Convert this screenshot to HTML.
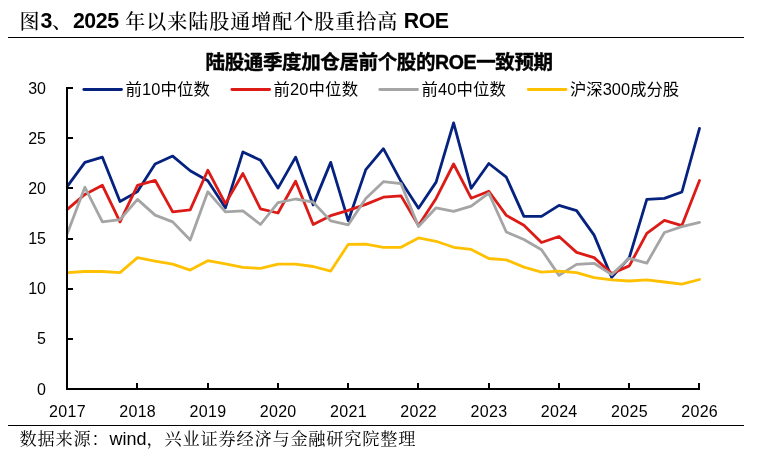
<!DOCTYPE html>
<html lang="zh-CN"><head><meta charset="utf-8"><title>图3</title>
<style>
html,body{margin:0;padding:0;background:#fff;}
body{width:765px;height:461px;position:relative;overflow:hidden;font-family:"Liberation Sans","Noto Sans CJK SC",sans-serif;color:#000;}
.t{position:absolute;white-space:nowrap;line-height:1;}
.kai{font-family:"Liberation Sans","Noto Serif CJK SC",serif;}
#title{left:19px;top:9px;font-size:20px;letter-spacing:1px;height:24px;line-height:24px;font-weight:500;}
#title span{position:relative;top:1px}
#t1{margin-left:0.5px}#t5{margin-left:1.2px}
#title b{font-size:21.33px;letter-spacing:-0.45px;font-weight:bold;font-family:"Liberation Sans",sans-serif;}
#ctitle{left:205.5px;top:52px;font-size:19.5px;font-weight:700;line-height:20px;letter-spacing:-0.37px;-webkit-text-stroke:0.4px #000;}
.leg{font-size:16.4px;top:80.3px;line-height:18px;letter-spacing:0.15px;}
.yl{font-size:16px;width:40px;left:6px;text-align:right;line-height:16px;}
.xl{font-size:16px;width:60px;text-align:center;top:404px;line-height:16px;letter-spacing:0.3px;text-indent:0.3px;}
#foot{left:19.5px;top:429px;font-size:17.2px;letter-spacing:0.8px;line-height:20px;font-weight:400;}
#foot b{font-size:18px;letter-spacing:0;font-weight:normal;font-family:"Liberation Sans",sans-serif;}
</style></head><body>
<svg width="765" height="461" viewBox="0 0 765 461" style="position:absolute;left:0;top:0">
<rect x="8" y="37" width="736" height="1" fill="#000"/>
<rect x="8" y="425" width="736" height="1" fill="#000"/>
<polyline fill="none" stroke="#05227F" stroke-width="2.8" stroke-linejoin="round" stroke-linecap="round" points="67.3,186.4 84.9,162.4 102.4,157.2 120.0,201.5 137.5,191.6 155.1,164.1 172.7,156.1 190.2,170.8 207.8,180.8 225.4,207.8 242.9,151.9 260.5,160.3 278.0,188.1 295.6,157.1 313.2,204.9 330.7,162.4 348.3,220.8 365.8,169.6 383.4,148.7 401.0,181.3 418.5,208.2 436.1,182.1 453.6,122.9 471.2,188.3 488.8,163.5 506.3,177.2 523.9,216.4 541.5,216.4 559.0,205.4 576.6,210.6 594.1,235.1 611.7,277.4 629.3,257.6 646.8,199.4 664.4,198.4 681.9,192.0 699.5,128.4"/>
<polyline fill="none" stroke="#DC1A16" stroke-width="2.8" stroke-linejoin="round" stroke-linecap="round" points="67.3,209.4 84.9,194.4 102.4,185.3 120.0,221.9 137.5,185.3 155.1,180.3 172.7,211.9 190.2,209.9 207.8,170.2 225.4,203.6 242.9,173.5 260.5,208.9 278.0,213.0 295.6,181.2 313.2,224.5 330.7,215.7 348.3,210.4 365.8,204.4 383.4,197.2 401.0,195.9 418.5,225.5 436.1,198.4 453.6,164.0 471.2,198.2 488.8,191.3 506.3,215.4 523.9,225.3 541.5,242.5 559.0,236.5 576.6,252.4 594.1,257.6 611.7,273.6 629.3,265.9 646.8,233.3 664.4,220.3 681.9,225.6 699.5,180.5"/>
<polyline fill="none" stroke="#A5A5A5" stroke-width="2.8" stroke-linejoin="round" stroke-linecap="round" points="67.3,233.5 84.9,187.3 102.4,221.9 120.0,219.7 137.5,199.4 155.1,215.1 172.7,221.9 190.2,240.0 207.8,191.7 225.4,211.9 242.9,210.9 260.5,224.5 278.0,202.6 295.6,199.0 313.2,202.2 330.7,220.9 348.3,224.8 365.8,198.4 383.4,181.7 401.0,183.7 418.5,226.5 436.1,207.8 453.6,211.4 471.2,206.2 488.8,193.1 506.3,232.0 523.9,239.5 541.5,249.7 559.0,275.4 576.6,264.4 594.1,263.3 611.7,274.6 629.3,258.3 646.8,263.2 664.4,232.5 681.9,226.6 699.5,222.4"/>
<polyline fill="none" stroke="#FFC000" stroke-width="2.8" stroke-linejoin="round" stroke-linecap="round" points="67.3,272.6 84.9,271.5 102.4,271.5 120.0,272.6 137.5,257.6 155.1,261.1 172.7,264.2 190.2,270.1 207.8,260.7 225.4,263.8 242.9,267.4 260.5,268.4 278.0,264.2 295.6,264.2 313.2,266.5 330.7,271.1 348.3,244.3 365.8,244.2 383.4,247.3 401.0,247.3 418.5,237.9 436.1,241.3 453.6,247.3 471.2,249.4 488.8,258.5 506.3,259.9 523.9,267.1 541.5,272.1 559.0,271.1 576.6,272.7 594.1,277.6 611.7,279.9 629.3,281.0 646.8,279.9 664.4,282.0 681.9,284.2 699.5,279.5"/>
<g fill="#000">
<rect x="66" y="87" width="2" height="303"/>
<rect x="66" y="388" width="634" height="2"/>
<rect x="66" y="388" width="7" height="2"/>
<rect x="66" y="338" width="7" height="2"/>
<rect x="66" y="288" width="7" height="2"/>
<rect x="66" y="238" width="7" height="2"/>
<rect x="66" y="187" width="7" height="2"/>
<rect x="66" y="137" width="7" height="2"/>
<rect x="66" y="87" width="7" height="2"/>
<rect x="66" y="383" width="2" height="7"/>
<rect x="136" y="383" width="2" height="7"/>
<rect x="207" y="383" width="2" height="7"/>
<rect x="277" y="383" width="2" height="7"/>
<rect x="347" y="383" width="2" height="7"/>
<rect x="417" y="383" width="2" height="7"/>
<rect x="488" y="383" width="2" height="7"/>
<rect x="558" y="383" width="2" height="7"/>
<rect x="628" y="383" width="2" height="7"/>
<rect x="698" y="383" width="2" height="7"/>
</g>
<line x1="83.8" y1="89.5" x2="121.5" y2="89.5" stroke="#05227F" stroke-width="2.8" stroke-linecap="round"/>
<line x1="231.9" y1="89.5" x2="269.6" y2="89.5" stroke="#DC1A16" stroke-width="2.8" stroke-linecap="round"/>
<line x1="379.8" y1="89.5" x2="417.5" y2="89.5" stroke="#A5A5A5" stroke-width="2.8" stroke-linecap="round"/>
<line x1="528.3" y1="89.5" x2="566.0" y2="89.5" stroke="#FFC000" stroke-width="2.8" stroke-linecap="round"/>
</svg>
<div class="t kai" id="title"><span id="t1">图</span><b id="t2">3</b><span id="t3">、</span><b id="t4">2025 </b><span id="t5">年以来陆股通增配个股重拾高</span><b id="t6"> ROE</b></div>
<div class="t" id="ctitle">陆股通季度加仓居前个股的ROE一致预期</div>
<div class="t leg" id="lg0" style="left:125.4px">前10中位数</div>
<div class="t leg" id="lg1" style="left:273.5px">前20中位数</div>
<div class="t leg" id="lg2" style="left:421.4px">前40中位数</div>
<div class="t leg" id="lg3" style="left:569.9px;letter-spacing:0">沪深300成分股</div>
<div class="t yl" style="top:381.5px">0</div>
<div class="t yl" style="top:331.3px">5</div>
<div class="t yl" style="top:281.2px">10</div>
<div class="t yl" style="top:231.0px">15</div>
<div class="t yl" style="top:180.8px">20</div>
<div class="t yl" style="top:130.7px">25</div>
<div class="t yl" style="top:80.5px">30</div>
<div class="t xl" style="left:37.3px">2017</div>
<div class="t xl" style="left:107.5px">2018</div>
<div class="t xl" style="left:177.8px">2019</div>
<div class="t xl" style="left:248.0px">2020</div>
<div class="t xl" style="left:318.3px">2021</div>
<div class="t xl" style="left:388.5px">2022</div>
<div class="t xl" style="left:458.8px">2023</div>
<div class="t xl" style="left:529.0px">2024</div>
<div class="t xl" style="left:599.3px">2025</div>
<div class="t xl" style="left:669.5px">2026</div>
<div class="t kai" id="foot">数据来源：<b>wind</b>，兴业证券经济与金融研究院整理</div>
</body></html>
